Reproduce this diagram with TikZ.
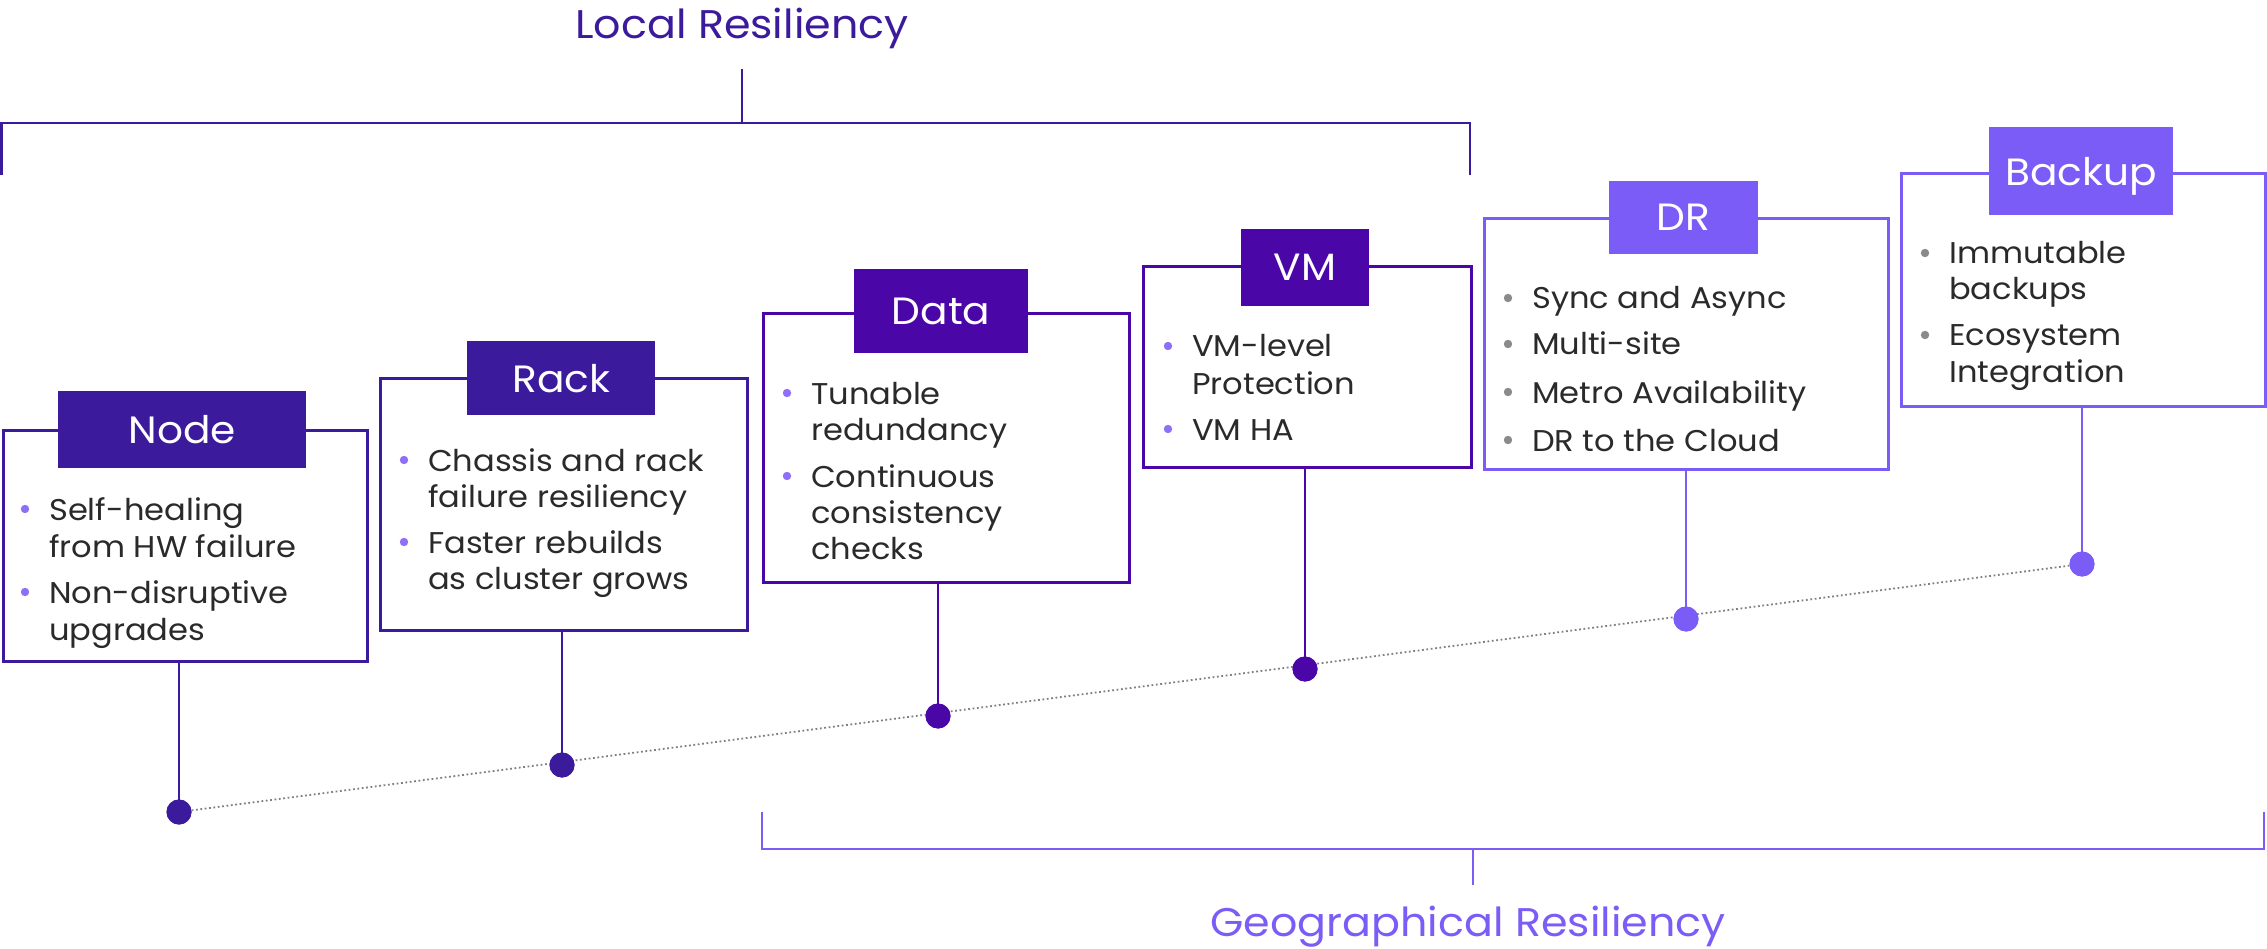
\documentclass[tikz,border=0pt]{standalone}
\usepackage{fontspec}
\setmainfont{Poppins}[FakeStretch=1.07]
\definecolor{cA}{HTML}{3B1A9C}
\definecolor{cB}{HTML}{4B06A8}
\definecolor{cC}{HTML}{7B5CF6}
\definecolor{bulA}{HTML}{8E70F7}
\definecolor{bulB}{HTML}{8A8A8A}
\definecolor{txt}{HTML}{2A2A2A}
\definecolor{dotline}{HTML}{808080}
\newcommand{\bul}[3]{\fill[#1] (#2-24,#3-11) circle (4.2);}
\begin{document}
\begin{tikzpicture}[x=1pt,y=-1pt,
  box/.style={draw, line width=2.8pt, fill=white, inner sep=0, anchor=north west},
  hdr/.style={inner sep=0, anchor=north west, text=white, font=\fontsize{38}{44}\selectfont},
  item/.style={anchor=base west, inner sep=0, text=txt, font=\fontsize{30}{36}\selectfont},
  stemline/.style={line width=2.8pt},
  dotm/.style={circle, inner sep=0, minimum size=25pt},
  brk/.style={line width=2.6pt},
  title/.style={anchor=base, inner sep=0, font=\fontsize{40}{46}\selectfont}]
\useasboundingbox (0,0) rectangle (2267,949);

% brackets
\node[title, text=cA] (localt) at (742,39) {Local Resiliency};
\coordinate (lbl) at (1.5,175); \coordinate (lbr) at (1470,175);
\coordinate (lbm) at (742,123); \coordinate (lbs) at (742,69);
\draw[brk, cA] (lbl) -- (lbl |- lbm) -- (lbr |- lbm) -- (lbr);
\draw[cA, line width=2pt] (lbm) -- (lbs);

\node[title, text=cC] (geot) at (1468,936) {Geographical Resiliency};
\coordinate (gbl) at (762,812); \coordinate (gbr) at (2264,812);
\coordinate (gbm) at (1473,849); \coordinate (gbs) at (1473,885);
\draw[brk, cC] (gbl) -- (gbl |- gbm) -- (gbr |- gbm) -- (gbr);
\draw[cC, line width=2pt] (gbm) -- (gbs);

% dots
\node[dotm, fill=cA] (noded) at (179,812) {};
\node[dotm, fill=cA] (rackd) at (562,765) {};
\node[dotm, fill=cB] (datad) at (938,716) {};
\node[dotm, fill=cB] (vmd) at (1305,669) {};
\node[dotm, fill=cC] (drd) at (1686,619) {};
\node[dotm, fill=cC] (backupd) at (2082,564) {};
\draw[dotline, line width=1.8pt, dash pattern=on 1.8pt off 2.6pt] (noded) -- (backupd);

% boxes
\node[box, draw=cA, minimum width=364pt, minimum height=231pt] (nodeb) at (2,429) {};
\node[box, draw=cA, minimum width=367pt, minimum height=252pt] (rackb) at (379,377) {};
\node[box, draw=cB, minimum width=366pt, minimum height=269pt] (datab) at (762,312) {};
\node[box, draw=cB, minimum width=328pt, minimum height=201pt] (vmb) at (1142,265) {};
\node[box, draw=cC, minimum width=404pt, minimum height=251pt] (drb) at (1483,217) {};
\node[box, draw=cC, minimum width=364pt, minimum height=233pt] (backupb) at (1900,172) {};

% stems
\draw[stemline, cA] (noded |- nodeb.south) -- (noded.center);
\draw[stemline, cA] (rackd |- rackb.south) -- (rackd.center);
\draw[stemline, cB] (datad |- datab.south) -- (datad.center);
\draw[stemline, cB] (vmd |- vmb.south) -- (vmd.center);
\draw[stemline, cC] (drd |- drb.south) -- (drd.center);
\draw[stemline, cC] (backupd |- backupb.south) -- (backupd.center);
% redraw dots over stems
\fill[cA] (noded) circle (12.5);
\fill[cA] (rackd) circle (12.5);
\fill[cB] (datad) circle (12.5);
\fill[cB] (vmd) circle (12.5);
\fill[cC] (drd) circle (12.5);
\fill[cC] (backupd) circle (12.5);

% headers
\node[hdr, fill=cA, minimum width=248pt, minimum height=77pt] (nodeh) at (58,391) {Node};
\node[hdr, fill=cA, minimum width=188pt, minimum height=74pt] (rackh) at (467,341) {Rack};
\node[hdr, fill=cB, minimum width=174pt, minimum height=84pt] (datah) at (854,269) {Data};
\node[hdr, fill=cB, minimum width=128pt, minimum height=77pt] (vmh) at (1241,229) {VM};
\node[hdr, fill=cC, minimum width=149pt, minimum height=73pt] (drh) at (1609,181) {DR};
\node[hdr, fill=cC, minimum width=184pt, minimum height=88pt, text depth=0pt] (backuph) at (1989,127) {Backup};

% Node items
\bul{bulA}{49}{520}
\node[item] (n1a) at (49,520) {Self-healing};
\node[item] (n1b) at (49,557) {from HW failure};
\bul{bulA}{49}{603}
\node[item] (n2a) at (49,603) {Non-disruptive};
\node[item] (n2b) at (49,640) {upgrades};

% Rack items
\bul{bulA}{428}{471}
\node[item] (r1a) at (428,471) {Chassis and rack};
\node[item] (r1b) at (428,507) {failure resiliency};
\bul{bulA}{428}{553}
\node[item] (r2a) at (428,553) {Faster rebuilds};
\node[item] (r2b) at (428,589) {as cluster grows};

% Data items
\bul{bulA}{811}{404}
\node[item] (d1a) at (811,404) {Tunable};
\node[item] (d1b) at (811,440) {redundancy};
\bul{bulA}{811}{487}
\node[item] (d2a) at (811,487) {Continuous};
\node[item] (d2b) at (811,523) {consistency};
\node[item] (d2c) at (811,559) {checks};

% VM items
\bul{bulA}{1192}{357}
\node[item] (v1a) at (1192,357) {VM-level};
\node[item] (v1b) at (1192,394) {Protection};
\bul{bulA}{1192}{440}
\node[item] (v2a) at (1192,440) {VM HA};

% DR items
\bul{bulB}{1532}{309}
\node[item] (dr1) at (1532,309) {Sync and Async};
\bul{bulB}{1532}{355}
\node[item] (dr2) at (1532,355) {Multi-site};
\bul{bulB}{1532}{403}
\node[item] (dr3) at (1532,403) {Metro Availability};
\bul{bulB}{1532}{451}
\node[item] (dr4) at (1532,451) {DR to the Cloud};

% Backup items
\bul{bulB}{1949}{264}
\node[item] (b1a) at (1949,264) {Immutable};
\node[item] (b1b) at (1949,300) {backups};
\bul{bulB}{1949}{346}
\node[item] (b2a) at (1949,346) {Ecosystem};
\node[item] (b2b) at (1949,383) {Integration};
\end{tikzpicture}
\end{document}
